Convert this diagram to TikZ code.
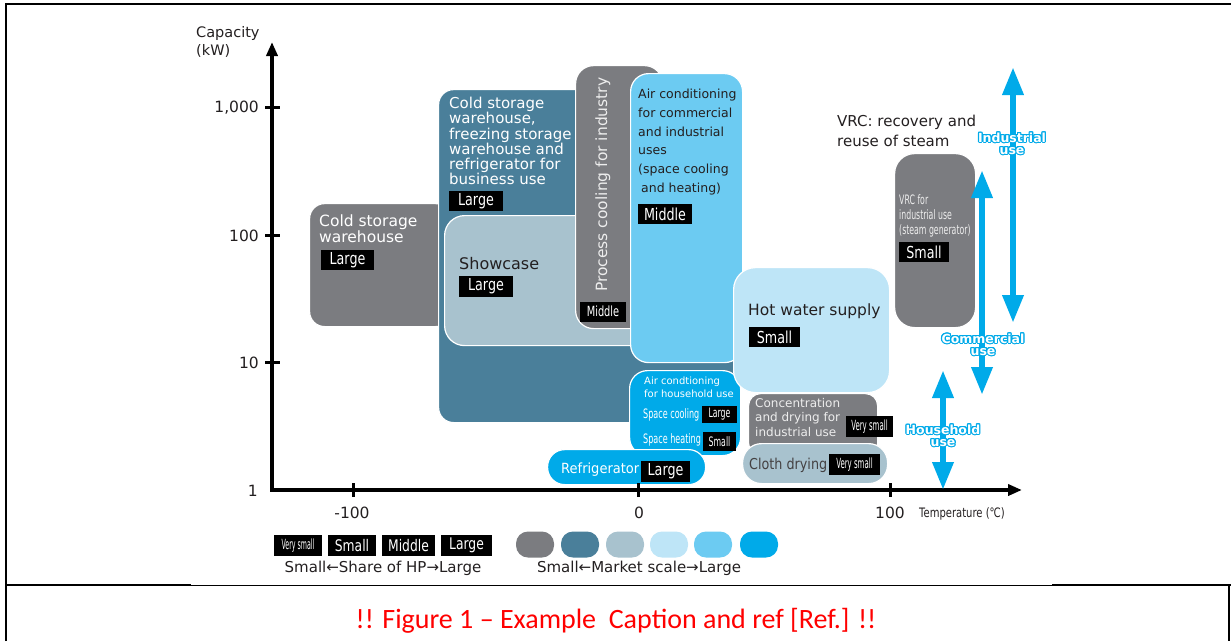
\documentclass[tikz,border=0pt]{standalone}
\usepackage{fontspec}
\usepackage{graphicx}
\usepackage{contour}
\setmainfont{DejaVu Sans}
\newfontfamily\capfont{Carlito}
\usetikzlibrary{arrows.meta}
\definecolor{cgray}{HTML}{7B7C80}
\definecolor{cteal}{HTML}{4A7F9A}
\definecolor{cshow}{HTML}{A8C2CE}
\definecolor{cpale}{HTML}{BEE5F7}
\definecolor{cmid}{HTML}{6CCBF2}
\definecolor{cbright}{HTML}{00AAE9}
\definecolor{ctext}{HTML}{231F20}
\definecolor{clight}{HTML}{EDEDED}
\newcommand\fs[2]{\fontsize{#1}{#2}\selectfont}
\newcommand\sx[2]{\scalebox{#1}[1]{#2}}
\contourlength{1.1pt}
\begin{document}
\begin{tikzpicture}[x=1pt,y=-1pt,
  box/.style={draw=white, line width=1.2pt, inner sep=0pt, anchor=north west},
  tagbox/.style={fill=black, text=white, inner sep=0pt, anchor=center},
  txt/.style={inner sep=0pt, align=left},
  legc/.style={inner sep=0pt, minimum width=38pt, minimum height=26pt, rounded corners=12pt},
  bluearrow/.style={cbright, line width=6.5pt, {Triangle[length=28pt,width=20pt]}-{Triangle[length=28pt,width=20pt]}},
  axis/.style={line width=3.5pt, -{Triangle[length=14pt,width=11pt]}},
  tick/.style={line width=3pt},
  uselab/.style={inner sep=0pt, align=center, font=\fs{12.5}{12}\bfseries}
]
\useasboundingbox (0,0) rectangle (1231,641);
% frame
\draw[line width=2.5pt] (6,641) -- (6,4) -- (1231,4);
\draw[line width=2.5pt] (6,585) -- (191,585);
\draw[line width=1pt] (191,585) -- (1052,585);
\draw[line width=2.5pt] (1052,585) -- (1231,585);
\draw[line width=2.5pt] (1229,585) -- (1229,641);

% boxes
\node[box, fill=cgray, rounded corners=15pt, minimum width=141pt, minimum height=123pt] (b1) at (309,203) {};
\node[box, fill=cteal, rounded corners=15pt, minimum width=298pt, minimum height=333pt] (b2) at (438,89) {};
\node[box, fill=cshow, rounded corners=20pt, minimum width=206pt, minimum height=130pt] (b3) at (444,215) {};
\node[box, fill=cgray, rounded corners=18pt, minimum width=87pt, minimum height=263pt] (b4) at (575,65) {};
\node[box, fill=cmid, rounded corners=18pt, minimum width=112pt, minimum height=289pt] (b5) at (630,73) {};
\node[box, fill=cbright, rounded corners=18pt, minimum width=111pt, minimum height=85pt] (b8) at (629,370) {};
\node[box, fill=cgray, rounded corners=12pt, minimum width=129pt, minimum height=62pt] (b10) at (748,393) {};
\node[box, fill=cpale, rounded corners=22pt, minimum width=156pt, minimum height=125pt] (b6) at (733,267) {};
\node[box, fill=cshow, rounded corners=19pt, minimum width=145pt, minimum height=40pt] (b11) at (742,443) {};
\node[box, fill=cbright, rounded corners=17pt, minimum width=158pt, minimum height=35pt] (b9) at (547,449) {};
\node[box, fill=cgray, rounded corners=20pt, minimum width=81pt, minimum height=174pt] (b7) at (894,153) {};

% texts
\node[txt, anchor=north west, text=white, font=\fs{15.5}{15.5}] (tcs) at (319,215) {Cold storage\\warehouse};
\node[txt, anchor=north west, text=white, font=\fs{15}{15.2}] (tteal) at (449,97) {Cold storage\\warehouse,\\freezing storage\\warehouse and\\refrigerator for\\business use};
\node[txt, anchor=north west, text=ctext, font=\fs{16}{16}] (tshow) at (459,257) {Showcase};
\node[inner sep=0pt, rotate=90, anchor=base west, text=clight, font=\fs{15.5}{15.5}] (tproc) at (607,292) {Process cooling for industry};
\node[txt, anchor=north west, text=ctext, font=\fs{12.5}{18.7}] (tacc) at (638,89) {Air conditioning\\for commercial\\and industrial\\uses\\(space cooling\\\hspace{3pt}and heating)};
\node[txt, anchor=north west, text=ctext, font=\fs{15.5}{15.5}] (thot) at (748,304) {Hot water supply};
\node[txt, anchor=north west, text=clight, font=\fs{13}{15}] (tvrc) at (899,194) {\sx{.6}{VRC for}\\\sx{.6}{industrial use}\\\sx{.6}{(steam generator)}};
\node[txt, anchor=north west, text=ctext, font=\fs{15}{20}] (tvrcl) at (837,115) {VRC: recovery and\\reuse of steam};
\node[txt, anchor=north west, text=white, font=\fs{10}{12.5}] (thac) at (644,377) {Air condtioning\\for household use};
\node[txt, anchor=west, text=white, font=\fs{13}{13}] (tsc) at (643,415) {\sx{.62}{Space cooling}};
\node[txt, anchor=west, text=white, font=\fs{13}{13}] (tsh) at (643,440) {\sx{.62}{Space heating}};
\node[txt, anchor=west, text=white, font=\fs{14}{14}] (tref) at (561,470) {\sx{.93}{Refrigerator}};
\node[txt, anchor=north west, text=clight, font=\fs{12}{14.5}] (tcon) at (755,398) {Concentration\\and drying for\\industrial use};
\node[txt, anchor=west, text=ctext!85, font=\fs{15}{15}] (tcloth) at (749,465) {\sx{.85}{Cloth drying}};

% tags
\node[tagbox, minimum width=53pt, minimum height=20pt, font=\fs{16.5}{16.5}] (t1) at (347.5,260) {\sx{.77}{Large}};
\node[tagbox, minimum width=54pt, minimum height=20pt, font=\fs{16.5}{16.5}] (t2) at (476,201) {\sx{.77}{Large}};
\node[tagbox, minimum width=54pt, minimum height=21pt, font=\fs{16.5}{16.5}] (t3) at (486,286.5) {\sx{.77}{Large}};
\node[tagbox, minimum width=46pt, minimum height=20pt, font=\fs{14}{14}] (t4) at (603,311.5) {\sx{.7}{Middle}};
\node[tagbox, minimum width=54pt, minimum height=20pt, font=\fs{16.5}{16.5}] (t5) at (665,214) {\sx{.77}{Middle}};
\node[tagbox, minimum width=51pt, minimum height=20pt, font=\fs{16.5}{16.5}] (t6) at (774.5,337) {\sx{.77}{Small}};
\node[tagbox, minimum width=50pt, minimum height=20pt, font=\fs{16.5}{16.5}] (t7) at (924,252) {\sx{.77}{Small}};
\node[tagbox, minimum width=35pt, minimum height=17pt, font=\fs{13}{13}] (t8) at (719.5,414.5) {\sx{.6}{Large}};
\node[tagbox, minimum width=33pt, minimum height=19pt, font=\fs{13}{13}] (t9) at (719.5,441.5) {\sx{.6}{Small}};
\node[tagbox, minimum width=49pt, minimum height=21pt, font=\fs{16.5}{16.5}] (t10) at (665.5,471.5) {\sx{.77}{Large}};
\node[tagbox, minimum width=47pt, minimum height=21pt, font=\fs{14}{14}] (t11) at (869.5,426.5) {\sx{.5}{Very small}};
\node[tagbox, minimum width=51pt, minimum height=21pt, font=\fs{14}{14}] (t12) at (854.5,464.5) {\sx{.5}{Very small}};

% axes
\coordinate (org) at (272,490);
\coordinate (ytip) at (272,42);
\coordinate (xtip) at (1022,490);
\draw[axis] (272,491.75) -- (ytip);
\draw[axis] (org) -- (xtip);
\foreach \yy in {107,235,362} \draw[tick] (265,\yy) -- (280,\yy);
\foreach \xx in {353,638,890} \draw[tick] (\xx,483) -- (\xx,497);
\node[txt, anchor=west, text=ctext, font=\fs{14.5}{14.5}] (cap1) at (196,33) {Capacity};
\node[txt, anchor=west, text=ctext, font=\fs{14.5}{14.5}] (cap2) at (196,51) {(kW)};
\node[txt, anchor=east, text=ctext, font=\fs{15.5}{15.5}] (y1000) at (259,108) {1,000};
\node[txt, anchor=east, text=ctext, font=\fs{15.5}{15.5}] (y100) at (259,236) {100};
\node[txt, anchor=east, text=ctext, font=\fs{15.5}{15.5}] (y10) at (259,363) {10};
\node[txt, anchor=east, text=ctext, font=\fs{15.5}{15.5}] (y1) at (258,491) {1};
\node[txt, text=ctext, font=\fs{15.5}{15.5}] (xm100) at (352,513) {-100};
\node[txt, text=ctext, font=\fs{15.5}{15.5}] (x0) at (639,513) {0};
\node[txt, text=ctext, font=\fs{15.5}{15.5}] (x100) at (890,513) {100};
\node[txt, anchor=west, text=ctext, font=\fs{13}{13}] (xlab) at (919,514) {\sx{.77}{Temperature (℃)}};

% blue arrows
\coordinate (i1) at (1013,67); \coordinate (i2) at (1013,323);
\coordinate (c1) at (982,170); \coordinate (c2) at (982,395);
\coordinate (h1) at (943,370); \coordinate (h2) at (943,490);
\draw[bluearrow] (i1) -- (i2);
\draw[bluearrow] (c1) -- (c2);
\draw[bluearrow] (h1) -- (h2);
\node[uselab] (lind) at (1012,144) {\contour{cbright}{\color{white}Industrial}\\\contour{cbright}{\color{white}use}};
\node[uselab] (lcom) at (983,345) {\contour{cbright}{\color{white}Commercial}\\\contour{cbright}{\color{white}use}};
\node[uselab] (lhou) at (943,436) {\contour{cbright}{\color{white}Household}\\\contour{cbright}{\color{white}use}};

% legend
\node[tagbox, minimum width=48pt, minimum height=21pt, font=\fs{14}{14}] (l1) at (298,545.5) {\sx{.45}{Very small}};
\node[tagbox, minimum width=48pt, minimum height=21pt, font=\fs{16}{16}] (l2) at (352,545.5) {\sx{.77}{Small}};
\node[tagbox, minimum width=53pt, minimum height=21pt, font=\fs{16}{16}] (l3) at (408.5,545.5) {\sx{.77}{Middle}};
\node[tagbox, minimum width=51pt, minimum height=21pt, font=\fs{16}{16}] (l4) at (466.5,545.5) {\sx{.77}{Large}};
\node[txt, text=ctext, font=\fs{15}{15}] (lt1) at (383,568) {Small←Share of HP→Large};
\node[legc, fill=cgray] (c1l) at (535,544.5) {};
\node[legc, fill=cteal] (c2l) at (580,544.5) {};
\node[legc, fill=cshow] (c3l) at (625,544.5) {};
\node[legc, fill=cpale] (c4l) at (669,544.5) {};
\node[legc, fill=cmid] (c5l) at (713,544.5) {};
\node[legc, fill=cbright] (c6l) at (759,544.5) {};
\node[txt, text=ctext, font=\fs{15}{15}] (lt2) at (639,568) {Small←Market scale→Large};

% caption
\node[inner sep=0pt, text=red, font=\capfont\fs{28}{30}] (caption) at (616,621) {!! Figure 1 – Example\ \ Caption and ref [Ref.] !!};
\end{tikzpicture}
\end{document}
